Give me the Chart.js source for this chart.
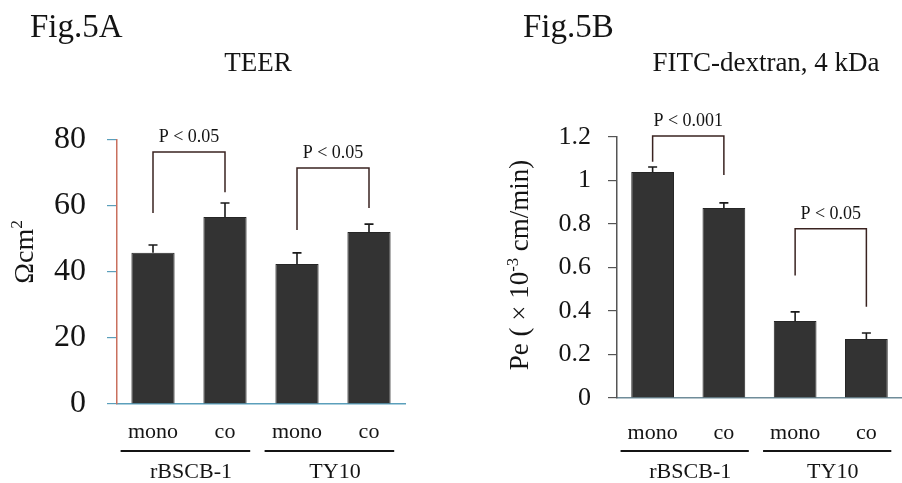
<!DOCTYPE html>
<html>
<head>
<meta charset="utf-8">
<script src="https://cdn.jsdelivr.net/npm/chart.js@4.4.0/dist/chart.umd.min.js"></script>
<style>
    html, body { margin: 0; padding: 0; background: #fff; }
    #wrap { position: relative; width: 902px; height: 483px; overflow: hidden; }
    .pane { position: absolute; top: 0; width: 451px; height: 483px; }
</style>
</head>
<body>
<div id="wrap">
    <div class="pane" style="left:0"><canvas id="teerChart" width="451" height="483"></canvas></div>
    <div class="pane" style="left:451px"><canvas id="fitcChart" width="451" height="483"></canvas></div>
</div>
<script>
// shared categories
const categories = ['mono', 'co', 'mono', 'co'];
const groups = ['rBSCB-1', 'TY10'];
const groupMembers = [[0, 1], [2, 3]];

// Fig.5A TEER
const teerValues = [45.8, 56.7, 42.4, 52.1];
const teerErrors = [2.4, 4.2, 3.4, 2.4];
const teerTicks = [0, 20, 40, 60, 80];
const teerPairs = [[0, 1], [2, 3]];
const teerPLabels = ['P < 0.05', 'P < 0.05'];
const teerBracketTop = [76.4, 71.5];
const teerBracketEnds = [[57.9, 64.2], [52.7, 59.4]];

// Fig.5B FITC-dextran
const fitcValues = [1.039, 0.874, 0.354, 0.271];
const fitcErrors = [0.023, 0.023, 0.042, 0.028];
const fitcTicks = [0, 0.2, 0.4, 0.6, 0.8, 1, 1.2];
const fitcPairs = [[0, 1], [2, 3]];
const fitcPLabels = ['P < 0.001', 'P < 0.05'];
const fitcBracketTop = [1.205, 0.778];
const fitcBracketEnds = [[1.086, 1.025], [0.563, 0.419]];

const serif = "'Liberation Serif', 'Times New Roman', serif";
const ink = '#141414';

// text with optional superscript parts, centred at (0,0) of current transform
function richText(ctx, parts, size) {
    let total = 0;
    parts.forEach(p => {
        ctx.font = (p[1] ? size * 0.62 : size) + 'px ' + serif;
        total += ctx.measureText(p[0]).width;
    });
    let x = -total / 2;
    ctx.textAlign = 'left';
    ctx.textBaseline = 'alphabetic';
    parts.forEach(p => {
        ctx.font = (p[1] ? size * 0.62 : size) + 'px ' + serif;
        ctx.fillText(p[0], x, p[1] ? -size * 0.03 : size * 0.35);
        x += ctx.measureText(p[0]).width;
    });
}

function makeChart(id, opt) {
    const extras = {
        id: 'extras_' + id,
        afterDraw(chart) {
            const ctx = chart.ctx;
            const xs = chart.scales.x, ys = chart.scales.y;
            const band = xs.getPixelForValue(1) - xs.getPixelForValue(0);
            ctx.save();

            // error bars
            ctx.strokeStyle = '#1a1a1a';
            ctx.lineWidth = 1.6;
            opt.values.forEach((v, i) => {
                const x = xs.getPixelForValue(i);
                const y0 = ys.getPixelForValue(v);
                const y1 = ys.getPixelForValue(v + opt.errors[i]);
                ctx.beginPath();
                ctx.moveTo(x, y0); ctx.lineTo(x, y1);
                ctx.moveTo(x - 4.5, y1); ctx.lineTo(x + 4.5, y1);
                ctx.stroke();
            });

            // significance brackets
            ctx.strokeStyle = opt.bracketColor;
            ctx.lineWidth = 1.5;
            opt.pairs.forEach((pr, k) => {
                const xa = xs.getPixelForValue(pr[0]);
                const xb = xs.getPixelForValue(pr[1]);
                const yt = ys.getPixelForValue(opt.bracketTop[k]);
                ctx.beginPath();
                ctx.moveTo(xa, ys.getPixelForValue(opt.bracketEnds[k][0]));
                ctx.lineTo(xa, yt);
                ctx.lineTo(xb, yt);
                ctx.lineTo(xb, ys.getPixelForValue(opt.bracketEnds[k][1]));
                ctx.stroke();
                ctx.fillStyle = ink;
                ctx.font = '18px ' + serif;
                ctx.textAlign = 'center';
                ctx.textBaseline = 'middle';
                ctx.fillText(opt.pLabels[k], (xa + xb) / 2, yt - 15);
            });

            // group underlines and names
            ctx.strokeStyle = '#141414';
            ctx.lineWidth = 2.2;
            groupMembers.forEach((m, g) => {
                const xl = xs.getPixelForValue(m[0]) - band * 0.45;
                const xr = xs.getPixelForValue(m[m.length - 1]) + band * 0.35;
                ctx.beginPath();
                ctx.moveTo(xl, 451); ctx.lineTo(xr, 451);
                ctx.stroke();
                ctx.fillStyle = ink;
                ctx.font = '22px ' + serif;
                ctx.textAlign = 'center';
                ctx.textBaseline = 'alphabetic';
                ctx.fillText(groups[g], (xs.getPixelForValue(m[0]) + xs.getPixelForValue(m[m.length - 1])) / 2 + 2, 478);
            });

            // figure label and title
            ctx.fillStyle = ink;
            ctx.textBaseline = 'alphabetic';
            ctx.font = '33px ' + serif;
            ctx.textAlign = 'left';
            ctx.fillText(opt.figLabel, opt.figX, 37);
            ctx.font = '27px ' + serif;
            ctx.textAlign = 'center';
            ctx.fillText(opt.title, opt.titleX, 71);

            // y axis title (rotated)
            ctx.translate(opt.yTitleX, opt.yTitleY);
            ctx.rotate(-Math.PI / 2);
            richText(ctx, opt.yTitle, opt.yTitleSize);
            ctx.restore();
        }
    };

    return new Chart(document.getElementById(id), {
        type: 'bar',
        data: {
            labels: categories,
            datasets: [{
                data: opt.values,
                backgroundColor: '#333333',
                borderColor: '#262626',
                borderWidth: 1,
                barPercentage: 0.6,
                categoryPercentage: 1.0
            }]
        },
        options: {
            responsive: false,
            animation: false,
            devicePixelRatio: 1,
            layout: { padding: { left: 0, top: opt.top, right: opt.right, bottom: 0 } },
            plugins: { legend: { display: false }, tooltip: { enabled: false }, title: { display: false } },
            scales: {
                x: {
                    grid: { display: false, drawTicks: false },
                    border: { color: opt.xAxisColor, width: 1.5 },
                    ticks: { color: ink, font: { family: serif, size: 22 }, padding: opt.xPad, maxRotation: 0 },
                    afterFit: s => { s.height = 483 - opt.bottom; }
                },
                y: {
                    min: opt.ticks[0],
                    max: opt.ticks[opt.ticks.length - 1],
                    afterBuildTicks: s => { s.ticks = opt.ticks.map(v => ({ value: v })); },
                    grid: { drawOnChartArea: false, drawTicks: true, tickLength: opt.tickLen, color: opt.tickColor, lineWidth: 1.2 },
                    border: { color: opt.yAxisColor, width: 1.5 },
                    ticks: {
                        color: ink,
                        font: { family: serif, size: opt.tickFont },
                        padding: opt.yPad,
                        callback: v => String(Number(v.toFixed(2)))
                    },
                    afterFit: s => { s.width = opt.left; }
                }
            }
        },
        plugins: [extras]
    });
}

makeChart('teerChart', {
    values: teerValues, errors: teerErrors, ticks: teerTicks,
    pairs: teerPairs, pLabels: teerPLabels, bracketTop: teerBracketTop, bracketEnds: teerBracketEnds,
    left: 117, top: 140, right: 46, bottom: 404,
    tickLen: 10, yPad: 21, xPad: 15, tickFont: 32,
    tickColor: '#5b9fbb', yAxisColor: '#c9705e', xAxisColor: '#5b9fbb', bracketColor: '#3a2320',
    figLabel: 'Fig.5A', figX: 30, title: 'TEER', titleX: 258,
    yTitle: [['Ωcm', false], ['2', true]], yTitleX: 23, yTitleY: 252, yTitleSize: 28
});

makeChart('fitcChart', {
    values: fitcValues, errors: fitcErrors, ticks: fitcTicks,
    pairs: fitcPairs, pLabels: fitcPLabels, bracketTop: fitcBracketTop, bracketEnds: fitcBracketEnds,
    left: 166, top: 137, right: 0, bottom: 398,
    tickLen: 9, yPad: 17, xPad: 22, tickFont: 26,
    tickColor: '#555555', yAxisColor: '#555555', xAxisColor: '#6f8c99', bracketColor: '#3a2320',
    figLabel: 'Fig.5B', figX: 72, title: 'FITC-dextran, 4 kDa', titleX: 315,
    yTitle: [['Pe ( × 10', false], ['-3', true], [' cm/min)', false]], yTitleX: 68, yTitleY: 265, yTitleSize: 27
});
</script>
</body>
</html>
